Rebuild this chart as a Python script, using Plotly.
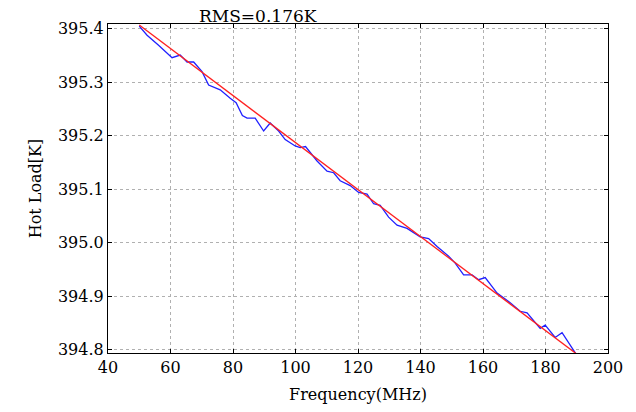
import plotly.graph_objects as go

freq = [50, 52.5, 56, 60.5, 63.1, 65.3, 67.4, 70.1, 72.2, 75.9, 79.1, 81, 83,
        84.5, 87.1, 89.8, 91.9, 94.6, 96.7, 99.9, 101.5, 103.2, 106.9, 110.1,
        112.2, 114.3, 117.5, 120.2, 122.9, 125, 127.1, 129.8, 132.5, 135.7,
        139.9, 142.6, 145.3, 149, 151.1, 153.8, 156.5, 158.6, 160.7, 164.5,
        168.7, 171.9, 174.1, 178.3, 179.9, 183.1, 185.3, 188, 190]
hot_load = [395.405, 395.388, 395.370, 395.346, 395.351, 395.338, 395.338,
            395.320, 395.295, 395.286, 395.270, 395.262, 395.238, 395.233,
            395.233, 395.209, 395.224, 395.209, 395.193, 395.181, 395.178,
            395.180, 395.153, 395.134, 395.131, 395.116, 395.107, 395.094,
            395.091, 395.073, 395.070, 395.048, 395.033, 395.027, 395.011,
            395.008, 394.993, 394.975, 394.962, 394.940, 394.940, 394.931,
            394.935, 394.906, 394.888, 394.872, 394.869, 394.840, 394.846,
            394.823, 394.832, 394.807, 394.790]
fit_freq = [50, 190]
fit_load = [395.407, 394.792]

x_ticks = [40, 60, 80, 100, 120, 140, 160, 180, 200]
y_ticks = [394.8, 394.9, 395.0, 395.1, 395.2, 395.3, 395.4]
y_tick_labels = ["394.8", "394.9", "395.0", "395.1", "395.2", "395.3", "395.4"]
title_text = "RMS=0.176K"

font = "DejaVu Serif"

fig = go.Figure()
fig.add_trace(go.Scatter(x=freq, y=hot_load, mode="lines",
                         line=dict(color="#2020ff", width=1.3), showlegend=False))
fig.add_trace(go.Scatter(x=fit_freq, y=fit_load, mode="lines",
                         line=dict(color="#ff2020", width=1.3), showlegend=False))

axis_common = dict(
    showline=True, linecolor="black", linewidth=1.2, mirror="allticks",
    ticks="inside", ticklen=4, tickcolor="black",
    showgrid=True, gridcolor="#b0b0b0", griddash="dot", gridwidth=1,
    zeroline=False, tickfont=dict(family=font, size=16, color="black"),
)

fig.update_xaxes(range=[40, 200], tickvals=x_ticks,
                 title=dict(text="Frequency(MHz)", font=dict(family=font, size=16, color="black"), standoff=12),
                 **axis_common)
fig.update_yaxes(range=[394.794, 395.409], tickvals=y_ticks, ticktext=y_tick_labels,
                 title=dict(text="Hot Load[K]", font=dict(family=font, size=16, color="black"), standoff=12),
                 **axis_common)

fig.add_annotation(x=88, y=1, xref="x", yref="paper", yanchor="bottom",
                   text=title_text, showarrow=False, yshift=-4,
                   font=dict(family=font, size=17, color="black"))

fig.update_layout(
    width=636, height=412,
    margin=dict(l=108, r=28, t=24, b=56),
    paper_bgcolor="white", plot_bgcolor="white",
)

fig.write_html("out.html")
